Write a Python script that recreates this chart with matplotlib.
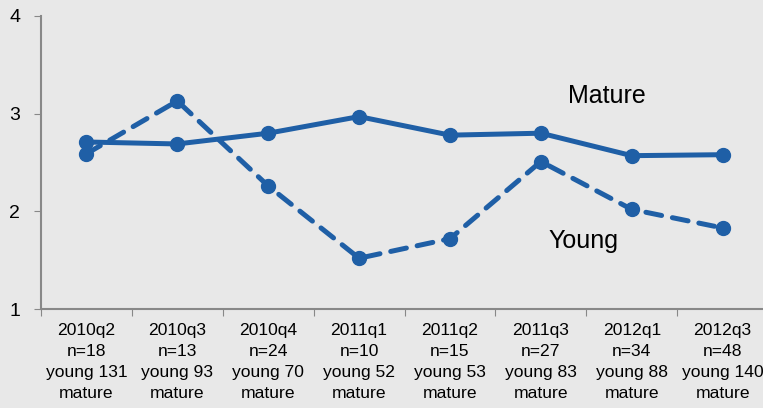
import matplotlib.pyplot as plt

# data
quarters = ['2010q2', '2010q3', '2010q4', '2011q1', '2011q2', '2011q3', '2012q1', '2012q3']
n_vals = [18, 13, 24, 10, 15, 27, 34, 48]
young_n = [131, 93, 70, 52, 53, 83, 88, 140]
mature = [2.71, 2.69, 2.80, 2.97, 2.78, 2.80, 2.57, 2.58]
young = [2.59, 3.13, 2.26, 1.52, 1.72, 2.51, 2.02, 1.83]

labels = [f"{q}\nn={n}\nyoung {y}\nmature" for q, n, y in zip(quarters, n_vals, young_n)]

plt.rcParams['font.family'] = ['Liberation Sans', 'DejaVu Sans']

blue = '#1f5fa6'
bg = '#e8e8e8'

fig = plt.figure(figsize=(7.63, 4.08), dpi=100)
fig.patch.set_facecolor(bg)
ax = fig.add_axes([0.0537, 0.2426, 0.953, 0.7182])
ax.set_facecolor(bg)

x = list(range(len(quarters)))
ax.plot(x, mature, color=blue, lw=3.6, marker='o', ms=10, solid_capstyle='round')
ax.plot(x, young, color=blue, lw=3.6, ls=(0, (3.2, 2.2)), marker='o', ms=10, dash_capstyle='round')

ax.set_xlim(-0.5, 7.5)
ax.set_ylim(1, 4)
ax.set_yticks([1, 2, 3, 4])
ax.set_yticklabels(['1', '2', '3', '4'], fontsize=14)

ax.set_xticks([i + 0.5 for i in range(-1, 8)])
ax.set_xticklabels([])
ax.set_xticks(x, minor=True)
ax.set_xticklabels(labels, minor=True, fontsize=12.6, va='top')
for t in ax.get_xticklabels(minor=True):
    t.set_linespacing(1.5)
ax.tick_params(axis='x', which='minor', length=0, pad=10)
ax.tick_params(axis='x', which='major', length=5, color='#888888')
ax.tick_params(axis='y', length=5, color='#888888', pad=10)

for s in ['top', 'right']:
    ax.spines[s].set_visible(False)
for s in ['left', 'bottom']:
    ax.spines[s].set_color('#888888')
    ax.spines[s].set_linewidth(1.5)

ax.text(5.73, 3.18, 'Mature', fontsize=18, ha='center', va='center')
ax.text(5.47, 1.7, 'Young', fontsize=18, ha='center', va='center')

fig.savefig('out.png', dpi=100, facecolor=bg)
